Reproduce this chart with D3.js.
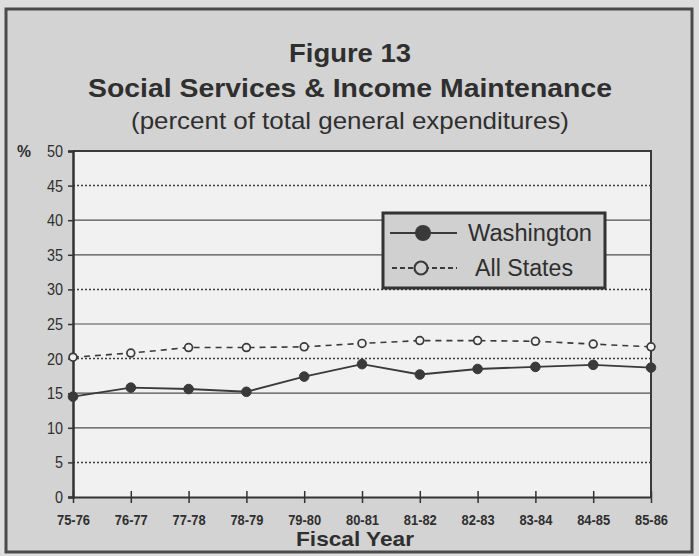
<!DOCTYPE html>
<html>
<head>
<meta charset="utf-8">
<script src="https://cdn.jsdelivr.net/npm/d3@7"></script>
<style>
  html, body { margin: 0; padding: 0; background: #dcdcdc; }
  svg { display: block; }
  text { font-family: "Liberation Sans", Arial, Helvetica, sans-serif; fill: #2f2f2f; }
</style>
</head>
<body>
<svg id="chart" width="699" height="556"></svg>
<script>
// Fiscal years on the x axis
const years = ["75-76", "76-77", "77-78", "78-79", "79-80", "80-81",
               "81-82", "82-83", "83-84", "84-85", "85-86"];
// Percent of total general expenditures
const washington = [14.5, 15.8, 15.6, 15.2, 17.4, 19.2, 17.7, 18.5, 18.8, 19.1, 18.7];
const allStates  = [20.2, 20.8, 21.6, 21.6, 21.7, 22.2, 22.6, 22.6, 22.5, 22.1, 21.7];
// Y axis ticks
const yTicks = [0, 5, 10, 15, 20, 25, 30, 35, 40, 45, 50];
const dottedGrid = [45, 30, 20, 5];

const svg = d3.select("#chart");
const W = 699, H = 556;

// Panel background and frame
svg.append("rect").attr("x", 0).attr("y", 0).attr("width", W).attr("height", H).attr("fill", "#dedede");
svg.append("rect").attr("x", 6).attr("y", 9).attr("width", 686).attr("height", 543)
  .attr("fill", "#d3d3d3").attr("stroke", "#4a4a4a").attr("stroke-width", 3);

// Titles
const titles = [
  { t: "Figure 13", y: 62, size: 25, w: "bold", len: 122 },
  { t: "Social Services & Income Maintenance", y: 97, size: 26, w: "bold", len: 524 },
  { t: "(percent of total general expenditures)", y: 129, size: 24, w: "normal", len: 438 }
];
titles.forEach(d => {
  svg.append("text").attr("x", 350).attr("y", d.y).attr("text-anchor", "middle")
    .attr("font-size", d.size).attr("font-weight", d.w)
    .attr("textLength", d.len).attr("lengthAdjust", "spacingAndGlyphs")
    .text(d.t);
});

// Plot area
const plotL = 73, plotR = 651, plotT = 151, plotB = 497;
const x = d3.scalePoint().domain(years).range([plotL, plotR]);
const y = d3.scaleLinear().domain([0, 50]).range([plotB, plotT]);

svg.append("rect").attr("x", plotL).attr("y", plotT).attr("width", plotR - plotL).attr("height", plotB - plotT)
  .attr("fill", "#f1f1f1");

// Gridlines
svg.append("g").selectAll("line").data(yTicks.filter(v => v > 0 && v < 50)).join("line")
  .attr("x1", plotL).attr("x2", plotR)
  .attr("y1", d => y(d)).attr("y2", d => y(d))
  .attr("stroke", d => dottedGrid.includes(d) ? "#3c3c3c" : "#4e4e4e")
  .attr("stroke-width", d => dottedGrid.includes(d) ? 1.5 : 1.2)
  .attr("stroke-dasharray", d => dottedGrid.includes(d) ? "2,2" : null);

// Plot border (top, right)
svg.append("path").attr("d", `M${plotL},${plotT}H${plotR}V${plotB}`)
  .attr("fill", "none").attr("stroke", "#3a3a3a").attr("stroke-width", 2);

// Y axis (narrow, tall numerals)
const yAxis = d3.axisLeft(y).tickValues(yTicks).tickSize(5).tickPadding(5);
const gy = svg.append("g").attr("transform", `translate(${plotL},0)`).call(yAxis);
gy.select(".domain").attr("stroke", "#333").attr("stroke-width", 2.5);
gy.selectAll(".tick line").attr("stroke", "#333").attr("stroke-width", 1.5);
gy.selectAll(".tick text").attr("font-size", 17).attr("fill", "#333")
  .attr("font-family", "'Liberation Sans', Arial, sans-serif")
  .attr("textLength", d => String(d).length * 8).attr("lengthAdjust", "spacingAndGlyphs");
svg.append("text").attr("x", 17).attr("y", y(50) + 6).attr("font-size", 17).attr("font-weight", "bold")
  .attr("textLength", 14).attr("lengthAdjust", "spacingAndGlyphs").text("%");

// X axis
const xAxis = d3.axisBottom(x).tickSizeInner(6).tickSizeOuter(0).tickPadding(11);
const gx = svg.append("g").attr("transform", `translate(0,${plotB})`).call(xAxis);
gx.select(".domain").attr("stroke", "#333").attr("stroke-width", 2);
gx.selectAll(".tick line").attr("y1", -6).attr("y2", 6).attr("stroke", "#333").attr("stroke-width", 1.5);
gx.selectAll(".tick text").attr("font-size", 15).attr("font-weight", "bold").attr("fill", "#333")
  .attr("font-family", "'Liberation Sans', Arial, sans-serif")
  .attr("textLength", 33).attr("lengthAdjust", "spacingAndGlyphs");
svg.append("text").attr("x", 355).attr("y", 546).attr("text-anchor", "middle")
  .attr("font-size", 21).attr("font-weight", "bold").attr("textLength", 118)
  .attr("lengthAdjust", "spacingAndGlyphs").text("Fiscal Year");

// Series lines
const line = d3.line().x((d, i) => x(years[i])).y(d => y(d));
svg.append("path").datum(allStates).attr("d", line)
  .attr("fill", "none").attr("stroke", "#3a3a3a").attr("stroke-width", 1.6).attr("stroke-dasharray", "6,5");
svg.append("path").datum(washington).attr("d", line)
  .attr("fill", "none").attr("stroke", "#3a3a3a").attr("stroke-width", 1.9);

svg.append("g").selectAll("circle").data(allStates).join("circle")
  .attr("cx", (d, i) => x(years[i])).attr("cy", d => y(d)).attr("r", 3.9)
  .attr("fill", "#f1f1f1").attr("stroke", "#3a3a3a").attr("stroke-width", 1.7);
svg.append("g").selectAll("circle").data(washington).join("circle")
  .attr("cx", (d, i) => x(years[i])).attr("cy", d => y(d)).attr("r", 4.8)
  .attr("fill", "#3a3a3a").attr("stroke", "#3a3a3a");

// Legend
const lg = svg.append("g");
lg.append("rect").attr("x", 383).attr("y", 213).attr("width", 222).attr("height", 75)
  .attr("fill", "#d0d0d0").attr("stroke", "#333").attr("stroke-width", 3);
lg.append("line").attr("x1", 390).attr("x2", 457).attr("y1", 233).attr("y2", 233)
  .attr("stroke", "#3a3a3a").attr("stroke-width", 2.2);
lg.append("circle").attr("cx", 423).attr("cy", 233).attr("r", 8).attr("fill", "#3a3a3a");
lg.append("text").attr("x", 468).attr("y", 241).attr("font-size", 23)
  .attr("textLength", 124).attr("lengthAdjust", "spacingAndGlyphs").text("Washington");
lg.append("line").attr("x1", 392).attr("x2", 457).attr("y1", 268).attr("y2", 268)
  .attr("stroke", "#3a3a3a").attr("stroke-width", 2.2).attr("stroke-dasharray", "5,3");
lg.append("circle").attr("cx", 421).attr("cy", 268).attr("r", 6.5)
  .attr("fill", "#d0d0d0").attr("stroke", "#3a3a3a").attr("stroke-width", 2.2);
lg.append("text").attr("x", 475).attr("y", 276).attr("font-size", 23)
  .attr("textLength", 98).attr("lengthAdjust", "spacingAndGlyphs").text("All States");
</script>
</body>
</html>
